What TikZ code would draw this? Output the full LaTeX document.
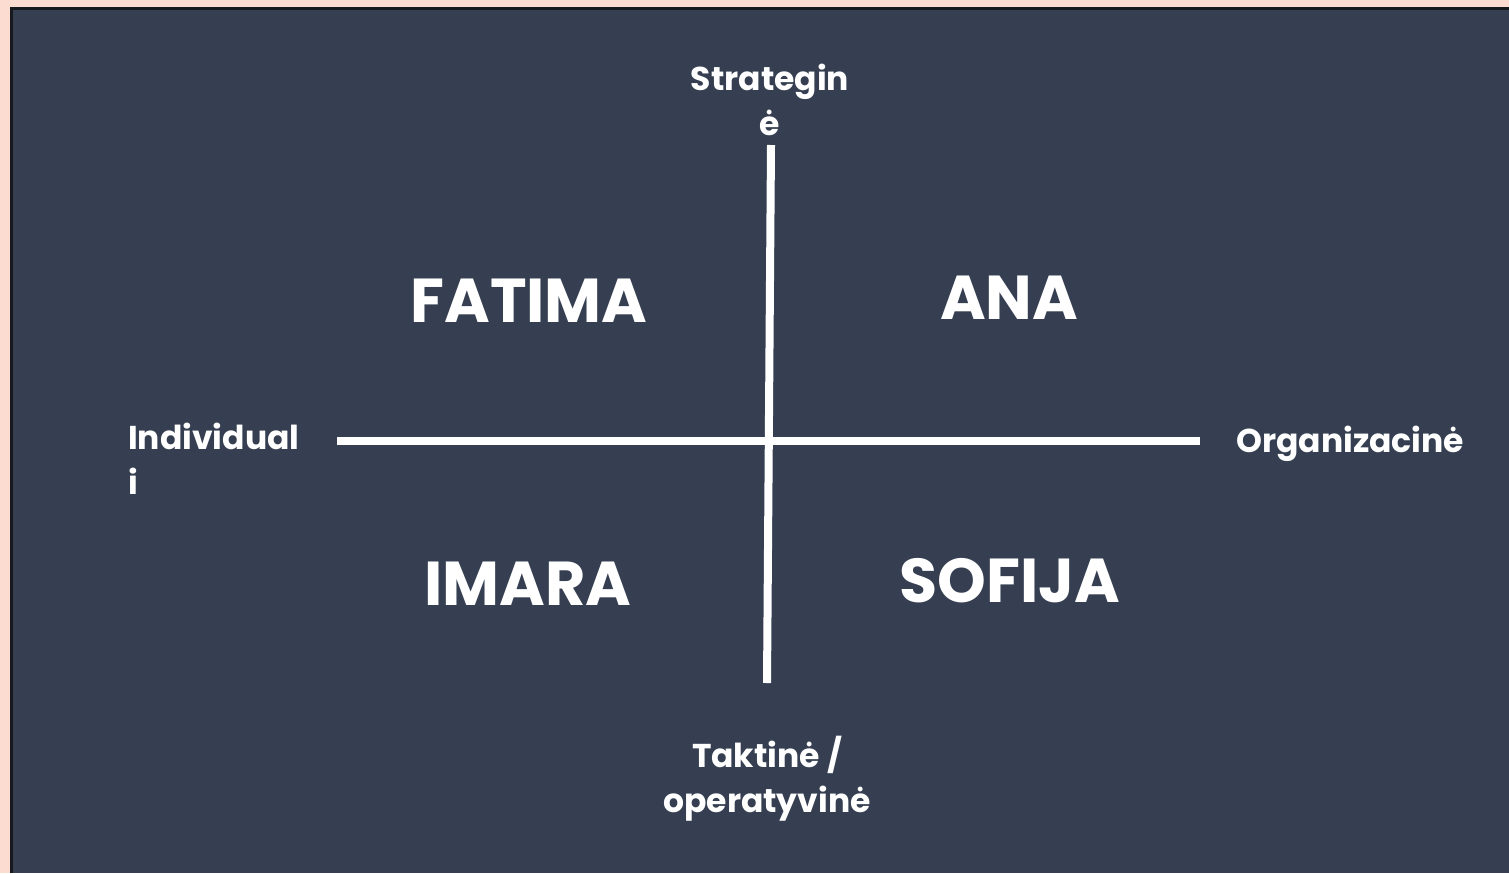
\documentclass[tikz,border=0pt]{standalone}
\usepackage{fontspec}
\setmainfont{Poppins}
\usepackage{tikz}
\definecolor{peach}{HTML}{FCDCD0}
\definecolor{slate}{HTML}{353F51}
\definecolor{rim}{HTML}{16191E}
\tikzstyle{every node}=[text=white,inner sep=0pt]
\tikzstyle{axislabel}=[font=\bfseries\fontsize{33}{45}\selectfont]
\tikzstyle{quadname}=[font=\bfseries\fontsize{62}{70}\selectfont]
\tikzstyle{axisline}=[draw=white,line width=8pt]

\begin{document}
\begin{tikzpicture}[x=1pt,y=-1pt]
\useasboundingbox (0,0) rectangle (1509,873);
\fill[peach] (0,0) rectangle (1509,873);
\fill[rim] (10,7) rectangle (1509,873);
\fill[slate] (13,10) rectangle (1509,873);
% axes
\coordinate (top) at (771,145);
\coordinate (bottom) at (767,683);
\coordinate (left) at (337,441);
\coordinate (right) at (1200,441);
\draw[axisline] (top) -- (bottom);
\draw[axisline] (left) -- (right);
% axis labels
\node[axislabel,align=center] (strat) at (770,100) {Strategin\\ė};
\node[axislabel,align=left,anchor=north west] (indiv) at (128,423) {Individual\\i};
\node[axislabel,anchor=base west] (org) at (1236,452) {Organizacinė};
\node[axislabel,align=center,anchor=north] (takt) at (767,736) {Taktinė /\\operatyvinė};
% quadrants
\node[quadname] (fatima) at (529,301) {FATIMA};
\node[quadname] (ana) at (1009,298) {ANA};
\node[quadname] (imara) at (528,584) {IMARA};
\node[quadname] (sofija) at (1010,581) {SOFIJA};
\end{tikzpicture}
\end{document}
